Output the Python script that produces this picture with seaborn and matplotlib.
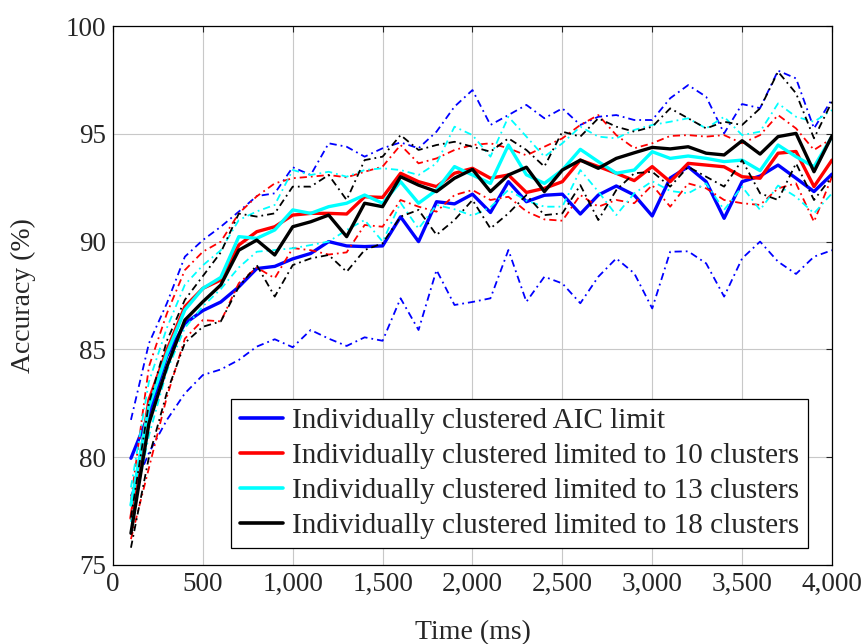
import matplotlib
matplotlib.use("Agg")
import matplotlib.pyplot as plt
import matplotlib.ticker as mticker
from matplotlib.lines import Line2D
import seaborn as sns
import pandas as pd

time_ms = list(range(100, 4100, 100))

blue_mean = [79.95, 82.0, 84.7, 86.2, 86.8, 87.2, 87.9, 88.75, 88.85, 89.2,
             89.45, 90.0, 89.8, 89.77, 89.8, 91.15, 90.0, 91.85, 91.75, 92.2,
             91.35, 92.78, 91.85, 92.15, 92.2, 91.28, 92.16, 92.58, 92.16, 91.19,
             92.95, 93.47, 92.78, 91.08, 92.78, 93.04, 93.55, 92.94, 92.32, 93.13]
blue_upper = [81.73, 85.28, 87.14, 89.3, 90.07, 90.69, 91.39, 92.11, 92.24, 93.45,
              93.09, 94.56, 94.4, 93.94, 94.33, 94.6, 94.33, 95.1, 96.26, 97.03,
              95.41, 95.87, 96.34, 95.72, 96.18, 95.41, 95.79, 95.87, 95.64, 95.64,
              96.65, 97.26, 96.72, 95.02, 96.38, 96.19, 97.93, 97.57, 95.25, 96.6]
blue_lower = [78.2, 80.2, 81.73, 82.96, 83.81, 84.07, 84.51, 85.13, 85.47, 85.1,
              85.9, 85.5, 85.16, 85.56, 85.4, 87.37, 85.9, 88.68, 87.06, 87.2,
              87.37, 89.61, 87.21, 88.37, 88.06, 87.14, 88.37, 89.22, 88.53, 86.9,
              89.53, 89.55, 88.99, 87.45, 89.22, 90.0, 89.07, 88.5, 89.3, 89.6]

red_mean = [77.17, 82.65, 84.97, 86.98, 87.83, 88.22, 89.84, 90.46, 90.69, 91.23,
            91.31, 91.31, 91.28, 92.08, 92.05, 93.17, 92.78, 92.55, 93.17, 93.4,
            92.94, 93.09, 92.28, 92.47, 92.78, 93.78, 93.48, 93.17, 92.83, 93.48,
            92.78, 93.63, 93.55, 93.47, 93.01, 92.94, 94.1, 94.18, 92.55, 93.78]
red_upper = [78.0, 84.2, 86.67, 88.68, 89.53, 90.0, 91.31, 92.1, 92.7, 92.94,
             93.01, 93.09, 92.98, 93.24, 93.48, 94.48, 93.63, 93.86, 94.25, 94.48,
             94.56, 94.33, 94.0, 94.4, 94.79, 95.41, 95.87, 94.94, 94.33, 94.56,
             94.9, 94.94, 94.87, 94.94, 94.56, 94.94, 95.87, 95.25, 94.25, 94.79]
red_lower = [76.2, 79.5, 82.8, 85.5, 86.36, 86.3, 88.07, 88.8, 88.3, 89.7,
             89.6, 89.4, 89.5, 90.77, 90.69, 91.93, 91.62, 91.39, 92.16, 92.39,
             91.93, 92.08, 91.4, 91.03, 90.97, 92.16, 91.62, 91.93, 91.78, 92.62,
             91.62, 92.7, 92.47, 91.93, 91.78, 91.7, 92.47, 92.7, 90.92, 93.01]

cyan_mean = [77.78, 82.34, 84.8, 86.83, 87.83, 88.34, 90.23, 90.15, 90.54, 91.47,
             91.31, 91.62, 91.78, 92.16, 91.78, 92.78, 91.78, 92.39, 93.48, 93.09,
             92.7, 94.48, 93.1, 92.7, 93.32, 94.28, 93.71, 93.17, 93.32, 94.17,
             93.86, 93.97, 93.86, 93.71, 93.78, 93.29, 94.48, 93.94, 93.47, 94.87]
cyan_upper = [78.6, 83.5, 86.0, 88.0, 88.9, 89.6, 91.0, 91.4, 91.7, 93.32,
              93.09, 93.24, 93.01, 93.32, 93.4, 93.32, 93.09, 93.63, 95.33, 94.94,
              93.94, 95.79, 94.87, 93.94, 94.56, 95.33, 94.87, 94.79, 95.18, 95.41,
              95.56, 95.72, 95.25, 95.79, 94.94, 95.1, 96.41, 95.79, 95.56, 96.1]
cyan_lower = [77.0, 81.0, 84.0, 86.0, 87.0, 87.8, 88.8, 89.53, 89.61, 89.69,
              89.84, 90.0, 90.54, 91.0, 90.0, 91.8, 90.6, 91.7, 91.5, 91.2,
              91.6, 92.4, 91.9, 91.62, 91.62, 93.32, 92.32, 91.23, 92.24, 92.8,
              92.35, 92.24, 92.7, 91.47, 92.55, 91.47, 92.6, 92.08, 91.31, 92.24]

black_mean = [76.47, 81.57, 84.2, 86.36, 87.21, 87.99, 89.6, 90.07, 89.38, 90.69,
              90.92, 91.23, 90.23, 91.78, 91.62, 93.01, 92.62, 92.32, 92.94, 93.35,
              92.32, 93.09, 93.45, 92.32, 93.32, 93.78, 93.4, 93.86, 94.12, 94.37,
              94.3, 94.4, 94.1, 94.02, 94.68, 94.06, 94.87, 95.02, 93.24, 94.9]
black_upper = [77.2, 82.5, 85.4, 87.3, 88.4, 89.5, 91.3, 91.16, 91.31, 92.55,
               92.55, 93.09, 91.93, 93.78, 93.94, 94.94, 94.25, 94.48, 94.63, 94.4,
               94.17, 94.79, 94.25, 93.48, 95.1, 94.87, 95.72, 95.33, 95.1, 95.33,
               96.18, 95.72, 95.25, 95.56, 95.41, 96.18, 97.88, 96.88, 94.79, 96.49]
black_lower = [75.8, 80.0, 83.0, 85.3, 86.05, 86.3, 87.9, 88.91, 87.45, 88.91,
               89.22, 89.38, 88.6, 89.61, 89.92, 91.16, 91.47, 90.31, 91.0, 91.93,
               90.61, 91.31, 92.16, 91.23, 91.31, 92.62, 91.0, 92.39, 93.17, 93.24,
               92.55, 93.47, 93.01, 92.55, 93.78, 92.24, 91.93, 93.63, 91.93, 93.01]

labels = ["Individually clustered AIC limit",
          "Individually clustered limited to 10 clusters",
          "Individually clustered limited to 13 clusters",
          "Individually clustered limited to 18 clusters"]
colors = ["#0000ff", "#ff0000", "#00ffff", "#000000"]
series = [(blue_mean, blue_upper, blue_lower),
          (red_mean, red_upper, red_lower),
          (cyan_mean, cyan_upper, cyan_lower),
          (black_mean, black_upper, black_lower)]

sns.set_style("white")
plt.rcParams['font.family'] = ['Liberation Serif', 'DejaVu Serif']

fig = plt.figure(figsize=(8.67, 6.44), dpi=100)
ax = fig.add_axes([0.1303, 0.1227, 0.8293, 0.8369])

dashdot = (0, (4, 2.2, 1, 2.2))
for (m, up, lo), c in zip(series, colors):
    df = pd.DataFrame({"t": time_ms, "mean": m, "up": up, "lo": lo})
    sns.lineplot(data=df, x="t", y="up", ax=ax, color=c, linewidth=1.3,
                 linestyle=dashdot, legend=False)
    sns.lineplot(data=df, x="t", y="lo", ax=ax, color=c, linewidth=1.3,
                 linestyle=dashdot, legend=False)
    sns.lineplot(data=df, x="t", y="mean", ax=ax, color=c, linewidth=2.4,
                 legend=False)

ax.set_xlim(0, 4000)
ax.set_ylim(75, 100)
ax.set_xticks(range(0, 4001, 500))
ax.set_yticks(range(75, 101, 5))
ax.xaxis.set_major_formatter(mticker.FuncFormatter(lambda v, p: f"{int(v):,}"))
ax.grid(True, color="#c8c8c8", linewidth=0.8)
ax.set_axisbelow(True)
for s in ax.spines.values():
    s.set_color("black")
    s.set_linewidth(0.9)
ax.tick_params(direction="in", length=4, width=0.8, labelsize=19.5,
               top=True, right=True, pad=5)
ax.set_xlabel("Time (ms)", fontsize=20)
ax.set_ylabel("Accuracy (%)", fontsize=20)
ax.xaxis.set_label_coords(0.5, -0.125)
ax.xaxis.label.set_va("center")
ax.yaxis.set_label_coords(-0.125, 0.5)
ax.yaxis.label.set_va("center")

handles = [Line2D([0], [0], color=c, linewidth=2.6) for c in colors]
leg = ax.legend(handles, labels, loc="lower right", fontsize=21,
                frameon=True, fancybox=False, edgecolor="black", framealpha=1,
                handlelength=1.5, handletextpad=0.3, borderpad=0.3,
                labelspacing=0.3, borderaxespad=0,
                bbox_to_anchor=(0.9666, 0.0315))
leg.get_frame().set_linewidth(0.9)

fig.savefig("out.png", dpi=100)
